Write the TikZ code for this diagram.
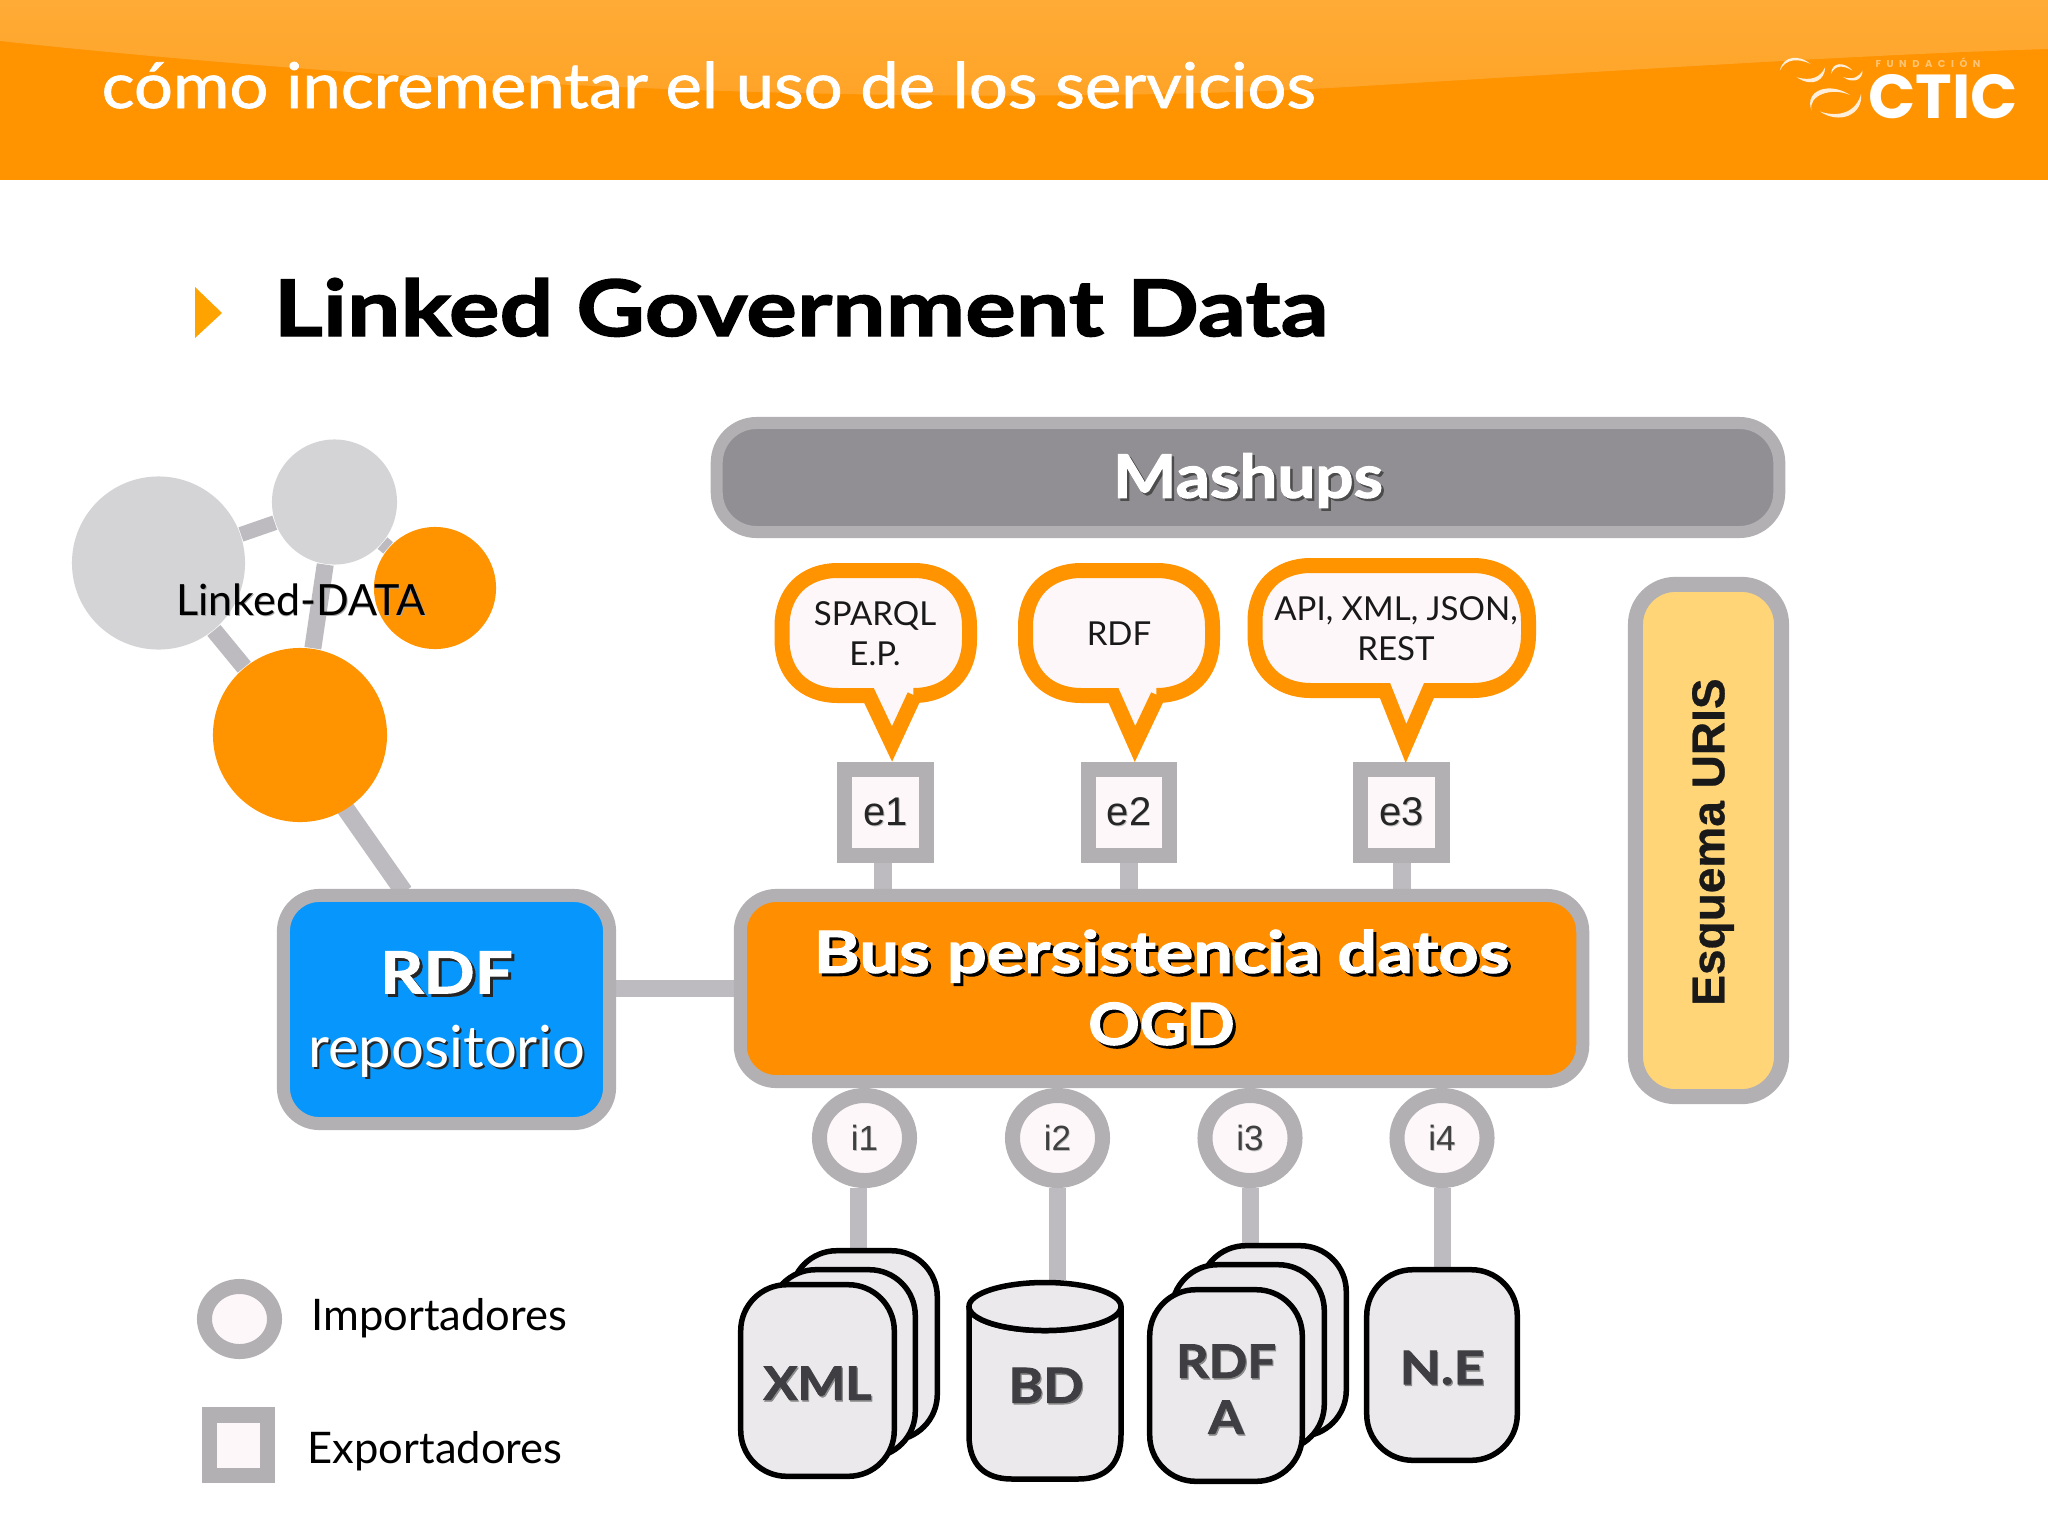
\documentclass[tikz,border=0pt]{standalone}
\usepackage{fontspec}
\usetikzlibrary{backgrounds,calc,shapes.geometric}
\setmainfont{Lato}
\newfontfamily\arialf[BoldFeatures={FakeBold=.6}]{Liberation Sans}
\newfontfamily\popf{Poppins}
\newfontfamily\heavy[BoldFeatures={FakeBold=1.8}]{Lato}
\newfontfamily\semi[UprightFeatures={FakeBold=1.2,FakeStretch=1.09}]{Lato}
\newcommand\wide[1]{\addfontfeature{FakeStretch=#1}}
\definecolor{hdr}{HTML}{FF9300}
\definecolor{hdrtop}{HTML}{FFAB36}
\definecolor{hdrlow}{HTML}{FFA326}
\definecolor{bord}{HTML}{B2B0B3}
\definecolor{link}{HTML}{BDBBC0}
\definecolor{paper}{HTML}{FDF7F9}
\definecolor{sheet}{HTML}{EBE9EC}
\definecolor{soft}{HTML}{D4D3D6}
\definecolor{mash}{HTML}{918F93}
\definecolor{sky}{HTML}{0796FB}
\definecolor{busor}{HTML}{FF8E00}
\definecolor{cream}{HTML}{FFD578}
\definecolor{ink}{HTML}{3F3E42}
\newcommand\fpx[2]{\fontsize{\fpeval{#1*0.28453}}{\fpeval{#2*0.28453}}\selectfont}
\newcommand\shd[4]{\leavevmode\rlap{\kern#2cm\raisebox{-#3cm}{\textcolor{#1}{#4}}}#4}
\newcommand\swoosh[6]{\fill[white,opacity=.85] (#1) .. controls (#2) and (#3) .. (#4) .. controls (#5) and (#6) .. (#1);}
\newcommand\bubble[8]{\draw[bubblepath]
  (#7,#4) -- (#5,#6) -- (#8,#4) -- ({#3-56},#4)
  .. controls ({#3-22},#4) and (#3,{#4-22}) .. (#3,{#4-56})
  -- (#3,{#2+56})
  .. controls (#3,{#2+22}) and ({#3-22},#2) .. ({#3-56},#2)
  -- ({#1+56},#2)
  .. controls ({#1+22},#2) and (#1,{#2+22}) .. (#1,{#2+56})
  -- (#1,{#4-56})
  .. controls (#1,{#4-22}) and ({#1+22},#4) .. ({#1+56},#4)
  -- cycle;}
\tikzset{
  x=0.01cm,y=-0.01cm,
  plate/.style={draw=bord,line width=.13cm,rounded corners=.36cm,inner sep=0pt,align=center,text=white},
  wire/.style={draw=link,line width=.17cm},
  expbox/.style={rectangle,draw=bord,fill=paper,line width=.15cm,inner sep=0pt,minimum width=.82cm,minimum height=.86cm,font=\arialf\fpx{40}{45},text=black!85},
  impbox/.style={ellipse,draw=bord,fill=paper,line width=.15cm,inner sep=0pt,minimum width=.9cm,minimum height=.85cm,font=\arialf\fpx{35}{40},text=black!75},
  docbox/.style={rectangle,draw=black,fill=sheet,line width=.055cm,rounded corners=.46cm,inner sep=0pt,align=center,font=\heavy\bfseries\wide{1.1}\fpx{46}{54},text=ink},
  ball/.style={circle,inner sep=0pt},
  bubblepath/.style={draw=hdr,fill=paper,line width=.15cm,miter limit=10},
  bubbletext/.style={inner sep=0pt,align=center,font=\fpx{33}{40},text=black!90},
  legend/.style={anchor=base west,inner sep=0pt,font=\fpx{43.5}{50},text=black}
}
\begin{document}
\begin{tikzpicture}
\useasboundingbox (0,0) rectangle (2048,1536);
% header
\fill[hdr] (0,0) rectangle (2048,180);
\shade[top color=hdrtop,bottom color=hdrlow] (0,0) -- (2048,0) -- (2048,49)
  .. controls (1850,55) and (1600,72) .. (1330,88)
  .. controls (1000,105) and (500,95) .. (0,41) -- cycle;
\node[anchor=base west,inner sep=0pt,text=white,font=\semi\fpx{63}{70}] (subtitle) at (101,108) {cómo incrementar el uso de los servicios};
% logo
\begin{scope}[shift={(1700,0)},x=0.00333cm,y=-0.00333cm]
\swoosh{240,212}{250,165}{300,165}{332,192}{295,175}{258,175}
\swoosh{290,232}{340,265}{375,240}{376,202}{362,232}{335,245}
\swoosh{394,222}{395,185}{435,185}{458,212}{430,195}{405,195}
\swoosh{430,232}{465,255}{490,235}{488,212}{478,232}{460,240}
\swoosh{335,332}{312,270}{390,245}{450,285}{395,262}{325,285}
\swoosh{360,335}{420,375}{490,345}{484,282}{470,335}{420,355}
\end{scope}
\node[anchor=base west,inner sep=0pt,text=white!45!hdr,font=\popf\bfseries\fpx{10}{12}] (fundacion) at (1875,67) {\addfontfeature{LetterSpace=55}FUNDACIÓN};
\node[anchor=base west,inner sep=0pt,text=white,font=\popf\bfseries\fpx{62}{66}] (ctic) at (1868,118) {CTIC};
% title
\fill[hdr!85!yellow] (195,287) -- (222,313) -- (195,338) -- cycle;
\node[anchor=base west,inner sep=0pt,text=black,font=\heavy\bfseries\wide{1.215}\fpx{78}{84}] (title) at (273,336) {Linked Government Data};
% plates
\node[plate,fill=mash,line width=.12cm,minimum width=10.62cm,minimum height=1.09cm,rounded corners=.4cm,font=\heavy\bfseries\wide{1.12}\fpx{60}{66}] (mashups) at (1248,477.5) {\rule{0pt}{.53cm}\shd{black!70}{.025}{.025}{Mashups}};
\node[plate,fill=busor,minimum width=8.42cm,minimum height=1.86cm,font=\heavy\bfseries\wide{1.21}\fpx{58}{72}] (bus) at (1161.5,988.5) {\rule{0pt}{.44cm}\shd{black}{.03}{.03}{Bus persistencia datos}\\{\wide{1.1}\shd{black}{.03}{.03}{OGD}}};
\node[plate,fill=sky,minimum width=3.26cm,minimum height=2.28cm,font=\fpx{58}{74}] (rdf) at (446.5,1009.5) {{\heavy\bfseries\wide{1.16}\rule{0pt}{.54cm}\shd{black!85}{.03}{.03}{RDF}}\\\shd{black!85}{.025}{.025}{repositorio}};
\node[plate,fill=cream,line width=.15cm,minimum width=1.46cm,minimum height=5.12cm,rounded corners=.4cm,text=black!90] (esquema) at (1708.5,840.5) {};
\node[rotate=90,inner sep=0pt,font=\arialf\bfseries\fpx{46}{52},text=black!90] (esqtext) at (1713,842) {Esquema URIS};
% exporters
\node[expbox] (e1) at (885.5,812.5) {\shd{black!25}{.008}{.01}{e1}};
\node[expbox,minimum width=.8cm] (e2) at (1129,812.5) {\shd{black!25}{.008}{.01}{e2}};
\node[expbox] (e3) at (1401.5,812.5) {\shd{black!25}{.008}{.01}{e3}};
% importers
\node[impbox] (i1) at (864.5,1138) {\shd{black!25}{.008}{.01}{i1}};
\node[impbox] (i2) at (1057.5,1138) {\shd{black!25}{.008}{.01}{i2}};
\node[impbox] (i3) at (1250,1138) {\shd{black!25}{.008}{.01}{i3}};
\node[impbox] (i4) at (1442,1138) {\shd{black!25}{.008}{.01}{i4}};
% bubbles
\bubble{782}{570.5}{969.5}{695.5}{892}{744}{869}{914.5}
\node[bubbletext] (b1) at (875,634) {SPARQL\\E.P.};
\bubble{1025.5}{570.5}{1212.5}{695.5}{1135}{744}{1113.5}{1158}
\node[bubbletext] (b2) at (1119,634) {RDF};
\bubble{1255}{565.5}{1528.5}{690.5}{1406}{743.5}{1385}{1429}
\node[bubbletext] (b3) at (1396,629) {API, XML, JSON,\\REST};
% documents
\node[docbox,minimum width=1.465cm,minimum height=1.895cm] (xmlc) at (864,1345.5) {};
\node[docbox,minimum width=1.455cm,minimum height=1.875cm] (xmlb) at (842.5,1363.5) {};
\node[docbox,minimum width=1.535cm,minimum height=1.915cm] (xmla) at (817.5,1380.5) {\rule{0pt}{.4cm}\shd{black!45}{.012}{.015}{XML}};
\draw[draw=black,fill=sheet,line width=.055cm] (969,1306.5) -- (969,1435)
  .. controls (969,1465) and (985,1479) .. (1012,1479) -- (1078,1479)
  .. controls (1105,1479) and (1121,1465) .. (1121,1435) -- (1121,1306.5)
  arc[x radius=76,y radius=-24,start angle=0,end angle=-180];
\node[ellipse,draw=black,fill=sheet,line width=.055cm,inner sep=0pt,minimum width=1.52cm,minimum height=.48cm] (bdtop) at (1045,1306.5) {};
\node[inner sep=0pt,font=\heavy\bfseries\wide{1.1}\fpx{48}{54},text=ink] (bd) at (1046,1386) {\shd{black!45}{.012}{.015}{BD}};
\node[docbox,minimum width=1.465cm,minimum height=1.905cm] (rdfac) at (1273,1341) {};
\node[docbox,minimum width=1.525cm,minimum height=1.855cm] (rdfab) at (1248,1357.5) {};
\node[docbox,minimum width=1.525cm,minimum height=1.915cm,font=\heavy\bfseries\wide{1.1}\fpx{46}{56}] (rdfa) at (1226,1385.5) {\rule{0pt}{.42cm}\shd{black!45}{.012}{.015}{RDF}\\\shd{black!45}{.012}{.015}{A}};
\node[docbox,minimum width=1.505cm,minimum height=1.905cm,font=\heavy\bfseries\wide{1.16}\fpx{46}{54}] (ne) at (1442,1365) {\rule{0pt}{.4cm}\shd{black!45}{.012}{.015}{N.E}};
% linked data cloud
\node[ball,fill=soft,minimum size=1.73cm] (c1) at (158.5,563) {};
\node[ball,fill=soft,minimum size=1.25cm] (c2) at (334.5,502) {};
\node[ball,fill=hdr,minimum size=1.22cm] (c3) at (435,588) {};
\node[ball,fill=hdr,minimum size=1.74cm] (c4) at (300,735) {};
\coordinate (rdfin) at (404,892);
\node[anchor=base,inner sep=0pt,font=\fpx{43}{46},text=black] (ldata) at (301,615) {\shd{black!35}{.008}{.012}{Linked-DATA}};
% legend
\node[ellipse,draw=bord,fill=paper,line width=.15cm,inner sep=0pt,minimum width=.7cm,minimum height=.65cm] (legi) at (239.5,1319) {};
\node[rectangle,draw=bord,fill=paper,line width=.15cm,inner sep=0pt,minimum width=.58cm,minimum height=.6cm] (lege) at (238.5,1445) {};
\node[legend] (legit) at (311,1330) {Importadores};
\node[legend] (leget) at (307,1463) {Exportadores};
% connectors behind everything
\begin{scope}[on background layer]
\fill[white] (0,0) rectangle (2048,1536);
\draw[wire] (c1) -- (c4);
\draw[wire,line width=.15cm] (c1) -- (c2);
\draw[wire] (c2) -- (c4);
\draw[wire,line width=.15cm] (c2) -- (c3);
\draw[wire,line width=.18cm] ([xshift=-.06cm]c4.center) -- (rdfin);
\draw[wire] (rdf.east |- bus.west) -- (bus.west);
\draw[wire,line width=.18cm] ([xshift=-.025cm]e1.south) -- ([xshift=-.025cm]e1.south |- bus.north);
\draw[wire,line width=.18cm] (e2.south) -- (e2.south |- bus.north);
\draw[wire,line width=.18cm] (e3.south) -- (e3.south |- bus.north);
\draw[wire] ([xshift=-.06cm]i1.south) -- ([xshift=-.06cm]i1.south |- xmlc.north);
\draw[wire] (i2.south) -- (i2.south |- bdtop.north);
\draw[wire] (i3.south) -- (i3.south |- rdfac.north);
\draw[wire] (i4.south) -- (i4.south |- ne.north);
\end{scope}
\end{tikzpicture}
\end{document}
